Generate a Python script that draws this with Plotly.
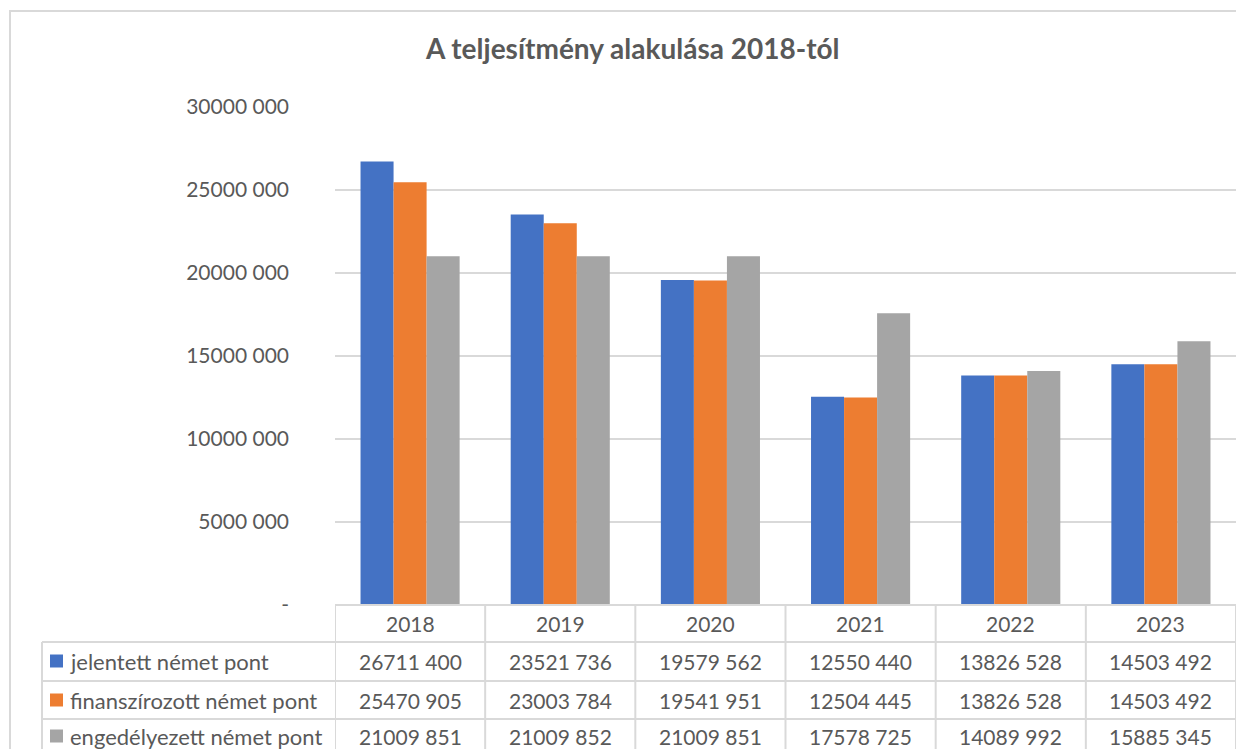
import plotly.graph_objects as go

years = ["2018", "2019", "2020", "2021", "2022", "2023"]
series_names = ["jelentett német pont", "finanszírozott német pont", "engedélyezett német pont"]
jelentett = [26711400, 23521736, 19579562, 12550440, 13826528, 14503492]
finanszirozott = [25470905, 23003784, 19541951, 12504445, 13826528, 14503492]
engedelyezett = [21009851, 21009852, 21009851, 17578725, 14089992, 15885345]
y_tick_vals = [0, 5000000, 10000000, 15000000, 20000000, 25000000, 30000000]
y_tick_text = ["-", "5000 000", "10000 000", "15000 000", "20000 000", "25000 000", "30000 000"]
title_text = "A teljesítmény alakulása 2018-tól"

colors = ["#4472C4", "#ED7D31", "#A5A5A5"]
series_values = [jelentett, finanszirozott, engedelyezett]

W, H = 1236, 749
PL, PR, PT, PB = 335, 1236, 107, 605
TXT = "#595959"
GRID = "#D9D9D9"
FONT = "Lato, sans-serif"


def px(x):
    return (x - PL) / (PR - PL)


def py(y):
    return (PB - y) / (PB - PT)


def fmt(v):
    return f"{v // 1000} {v % 1000:03d}"


fig = go.Figure()
for name, vals, col in zip(series_names, series_values, colors):
    fig.add_trace(go.Bar(x=years, y=vals, name=name, marker=dict(color=col, line=dict(width=0))))

shapes = []
# outer chart border
shapes.append(dict(type="rect", xref="paper", yref="paper", x0=px(10), x1=px(1245), y0=py(11), y1=py(760),
                   line=dict(color=GRID, width=2), fillcolor="rgba(0,0,0,0)", layer="below"))
# table lines
row_lines = [642, 681, 719, 757]
shapes.append(dict(type="line", xref="paper", yref="paper", x0=px(PL), x1=px(1240), y0=py(605), y1=py(605),
                   line=dict(color=GRID, width=2)))
for ry in row_lines:
    shapes.append(dict(type="line", xref="paper", yref="paper", x0=px(42), x1=px(1240), y0=py(ry), y1=py(ry),
                       line=dict(color=GRID, width=2)))
shapes.append(dict(type="line", xref="paper", yref="paper", x0=px(42), x1=px(42), y0=py(642), y1=py(760),
                   line=dict(color=GRID, width=2)))
for i in range(len(years) + 1):
    shapes.append(dict(type="line", xref="x", yref="paper", x0=i - 0.5, x1=i - 0.5, y0=py(605), y1=py(760),
                       line=dict(color=GRID, width=2)))

annotations = []
annotations.append(dict(text=f"<b>{title_text}</b>", xref="paper", yref="paper", x=px(632), y=py(48),
                        showarrow=False, font=dict(family=FONT, size=28, color=TXT), xanchor="center", yanchor="middle"))
for i, yr in enumerate(years):
    annotations.append(dict(text=yr, xref="x", yref="paper", x=i, y=py(623), showarrow=False,
                            font=dict(family=FONT, size=21, color=TXT), xanchor="center", yanchor="middle"))
row_centers = [661, 700, 736]
for r, (name, vals, col) in enumerate(zip(series_names, series_values, colors)):
    cy = row_centers[r]
    shapes.append(dict(type="rect", xref="paper", yref="paper", x0=px(50), x1=px(63), y0=py(cy - 6.5), y1=py(cy + 6.5),
                       line=dict(width=0), fillcolor=col))
    annotations.append(dict(text=name, xref="paper", yref="paper", x=px(68), y=py(cy), showarrow=False,
                            font=dict(family=FONT, size=22, color=TXT), xanchor="left", yanchor="middle"))
    for i, v in enumerate(vals):
        annotations.append(dict(text=fmt(v), xref="x", yref="paper", x=i, y=py(cy), showarrow=False,
                                font=dict(family=FONT, size=21, color=TXT), xanchor="center", yanchor="middle"))

fig.update_layout(
    width=W, height=H,
    margin=dict(l=PL, r=W - PR, t=PT, b=H - PB, pad=0),
    paper_bgcolor="white", plot_bgcolor="white",
    barmode="group", bargap=0.34, bargroupgap=0,
    showlegend=False,
    shapes=shapes, annotations=annotations,
    font=dict(family=FONT, color=TXT),
)
fig.update_xaxes(range=[-0.5, 5.5], showticklabels=False, showgrid=False, zeroline=False, showline=False, ticks="")
fig.update_yaxes(range=[0, 30000000], tickvals=y_tick_vals, ticktext=y_tick_text, showgrid=True, gridcolor=GRID,
                 gridwidth=2, zeroline=False, showline=False, ticks="", ticklabelstandoff=45,
                 tickfont=dict(family=FONT, size=21, color=TXT))

fig.write_html("out.html", config={"displayModeBar": False},
               post_script="document.body.style.margin='0';document.body.style.overflow='hidden';")
